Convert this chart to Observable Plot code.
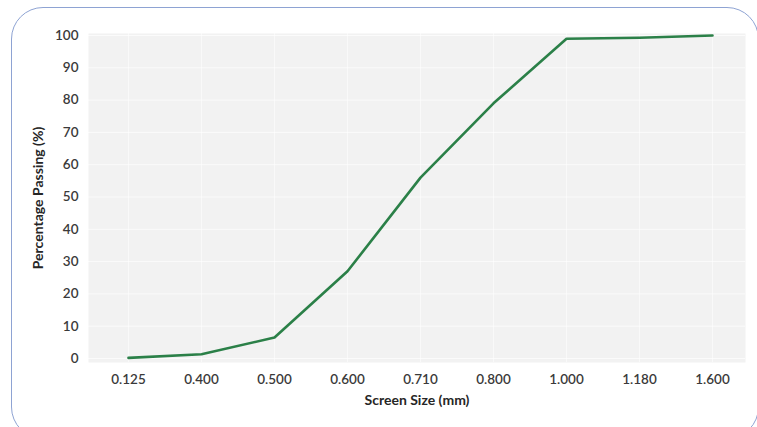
<!DOCTYPE html>
<html>
<head>
<meta charset="utf-8">
<script src="https://cdn.jsdelivr.net/npm/d3@7"></script>
<script src="https://cdn.jsdelivr.net/npm/@observablehq/plot@0.6"></script>
<style>
  html, body { margin: 0; padding: 0; background: #fff; overflow: hidden; }
  #wrap { position: relative; width: 757px; height: 427px; overflow: hidden; }
  #box { position: absolute; left: 11px; top: 7px; width: 748px; height: 432px;
         border: 1.2px solid #8ea3d3; border-radius: 32px; box-sizing: border-box; }
  #chart { position: absolute; left: 0; top: 0; }
</style>
</head>
<body>
<div id="wrap"><div id="box"></div><div id="chart"></div></div>
<script>
const screenSizes = ["0.125", "0.400", "0.500", "0.600", "0.710", "0.800", "1.000", "1.180", "1.600"];
const percentPassing = [0.2, 1.3, 6.5, 27, 56, 79, 99, 99.3, 100];
const yTicks = [0, 10, 20, 30, 40, 50, 60, 70, 80, 90, 100];
const xTitle = "Screen Size (mm)";
const yTitle = "Percentage Passing (%)";

const data = screenSizes.map((s, i) => ({size: s, pct: percentPassing[i]}));
const font = "Lato, 'Open Sans', sans-serif";

const chart = Plot.plot({
  width: 757,
  height: 427,
  marginLeft: 88,
  marginRight: 12,
  marginTop: 33,
  marginBottom: 65,
  style: {fontFamily: font, fontSize: "13px", background: "transparent", color: "#404040"},
  x: {type: "point", domain: screenSizes, insetLeft: 3, insetRight: -3, padding: 0.5},
  y: {domain: [0, 100], insetTop: 2, insetBottom: 4},
  marks: [
    Plot.frame({fill: "#f2f2f2", stroke: null}),
    Plot.gridY(yTicks, {stroke: "#ffffff", strokeOpacity: 0.7, strokeWidth: 1}),
    Plot.gridX(screenSizes, {stroke: "#ffffff", strokeOpacity: 0.5, strokeWidth: 1}),
    Plot.axisY(yTicks, {tickSize: 0, tickPadding: 10, label: null, fill: "#3a3a3a", fontSize: 13.5, fontWeight: 600}),
    Plot.axisX(screenSizes, {tickSize: 0, tickPadding: 12, label: null, fill: "#3a3a3a", fontSize: 13.5, fontWeight: 600}),
    Plot.line(data, {x: "size", y: "pct", stroke: "#2b8048", strokeWidth: 2.6, strokeLinejoin: "round"}),
    Plot.text([xTitle], {frameAnchor: "bottom", dy: 42, textAnchor: "middle", fontWeight: "bold", fontSize: 14, fill: "#262626"}),
    Plot.text([yTitle], {frameAnchor: "left", dx: -50, textAnchor: "middle", rotate: -90, fontWeight: "bold", fontSize: 14, fill: "#262626"})
  ]
});
document.getElementById("chart").appendChild(chart);
</script>
</body>
</html>
